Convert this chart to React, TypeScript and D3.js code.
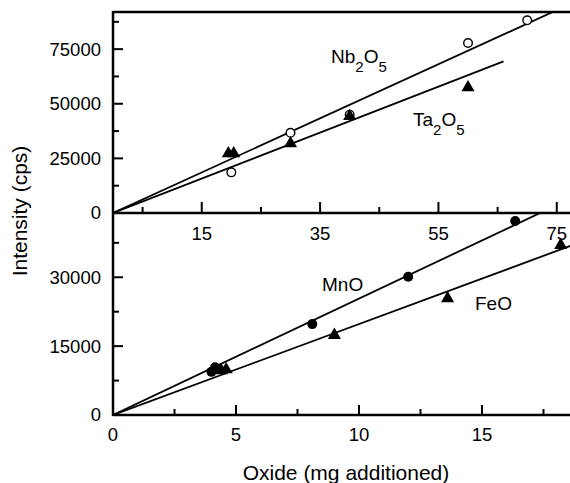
import { useMemo } from 'react';
import * as d3 from 'd3';

// top panel: Nb2O5 (open circles) and Ta2O5 (filled triangles), x = oxide 0..80
const nbX = [20, 30, 40, 60, 70];
const nbY = [18600, 36700, 45000, 77800, 88200];
const taX = [19.5, 20.4, 30, 40, 60];
const taY = [27200, 27200, 31800, 44300, 57400];

// bottom panel: MnO (filled circles) and FeO (filled triangles), x = mg 0..20
const mnX = [4.0, 4.15, 8.1, 12, 16.35];
const mnY = [9400, 10400, 19800, 30100, 42250];
const feX = [4.4, 4.6, 9.0, 13.6, 18.2];
const feY = [9700, 9900, 17400, 25400, 37000];

// how far each fitted line is drawn (in x units)
const fitEnds = { nb: 80, ta: 66, mn: 20, fe: 20 };

const topXMajor = [15, 35, 55, 75];
const topXMinor = [5, 25, 45, 65];
const topYMajor = [0, 25000, 50000, 75000];
const topYMinor = [12500, 37500, 62500, 87500];
const botXMajor = [0, 5, 10, 15];
const botXMinor = [2.5, 7.5, 12.5, 17.5];
const botYMajor = [0, 15000, 30000];
const botYMinor = [7500, 22500, 37500];

const W = 570;
const H = 483;
const left = 113;
const top = 12;
const mid = 213;
const bottom = 415;
const font = '"Liberation Sans", Arial, Helvetica, sans-serif';

// least squares slope through origin
const slope = (xs: number[], ys: number[]) =>
  d3.sum(xs, (x, i) => x * ys[i]) / d3.sum(xs, (x) => x * x);

const App = () => {
  const xTop = d3.scaleLinear().domain([0, 80]).range([left, left + 80 * 5.917]);
  const yTop = d3.scaleLinear().domain([0, 92000]).range([mid, top]);
  const xBot = d3.scaleLinear().domain([0, 20]).range([left, left + 20 * 24.6]);
  const yBot = d3.scaleLinear().domain([0, 44000]).range([bottom, mid]);

  const tri = useMemo(() => d3.symbol().type(d3.symbolTriangle).size(74)(), []);

  const fitLine = (xs: number[], ys: number[], end: number, sx: any, sy: any) => {
    const k = slope(xs, ys);
    return d3.line()([
      [sx(0), sy(0)],
      [sx(end), sy(k * end)],
    ]) as string;
  };

  const tickLen = 10;
  const minorLen = 6;

  return (
    <svg
      width={W}
      height={H}
      style={{ position: 'absolute', left: 0, top: 0, background: '#fff' }}
      fontFamily={font}
    >
      <defs>
        <clipPath id="clipTop">
          <rect x={left} y={top} width={W - left} height={mid - top} />
        </clipPath>
        <clipPath id="clipBot">
          <rect x={left} y={mid} width={W - left} height={bottom - mid} />
        </clipPath>
      </defs>

      {/* fitted lines */}
      <g clipPath="url(#clipTop)" stroke="#000" strokeWidth={1.8} fill="none">
        <path d={fitLine(nbX, nbY, fitEnds.nb, xTop, yTop)} />
        <path d={fitLine(taX, taY, fitEnds.ta, xTop, yTop)} />
      </g>
      <g clipPath="url(#clipBot)" stroke="#000" strokeWidth={1.8} fill="none">
        <path d={fitLine(mnX, mnY, fitEnds.mn, xBot, yBot)} />
        <path d={fitLine(feX, feY, fitEnds.fe, xBot, yBot)} />
      </g>

      {/* markers */}
      {nbX.map((x, i) => (
        <circle key={'nb' + i} cx={xTop(x)} cy={yTop(nbY[i])} r={4.3} fill="#fff" stroke="#000" strokeWidth={1.4} />
      ))}
      {taX.map((x, i) => (
        <path key={'ta' + i} d={tri as string} transform={`translate(${xTop(x)},${yTop(taY[i])})`} fill="#000" />
      ))}
      {mnX.map((x, i) => (
        <circle key={'mn' + i} cx={xBot(x)} cy={yBot(mnY[i])} r={5} fill="#000" />
      ))}
      {feX.map((x, i) => (
        <path key={'fe' + i} d={tri as string} transform={`translate(${xBot(x)},${yBot(feY[i])})`} fill="#000" />
      ))}

      {/* frame and axes */}
      <g stroke="#000" strokeWidth={2.5} fill="none">
        <line x1={left} x2={W} y1={top} y2={top} />
        <line x1={left} x2={W} y1={mid} y2={mid} />
        <line x1={left} x2={W} y1={bottom} y2={bottom} />
        <line x1={left} x2={left} y1={top - 1} y2={bottom + 1} />
      </g>

      {/* ticks */}
      <g stroke="#000" strokeWidth={2}>
        {topYMajor.map((v) => (
          <line key={'tym' + v} x1={left} x2={left + tickLen} y1={yTop(v)} y2={yTop(v)} />
        ))}
        {topYMinor.map((v) => (
          <line key={'tyn' + v} x1={left} x2={left + minorLen} y1={yTop(v)} y2={yTop(v)} />
        ))}
        {botYMajor.map((v) => (
          <line key={'bym' + v} x1={left} x2={left + tickLen} y1={yBot(v)} y2={yBot(v)} />
        ))}
        {botYMinor.map((v) => (
          <line key={'byn' + v} x1={left} x2={left + minorLen} y1={yBot(v)} y2={yBot(v)} />
        ))}
        {topXMajor.map((v) => (
          <line key={'txm' + v} x1={xTop(v)} x2={xTop(v)} y1={mid} y2={mid - tickLen - 1} />
        ))}
        {topXMinor.map((v) => (
          <line key={'txn' + v} x1={xTop(v)} x2={xTop(v)} y1={mid} y2={mid - minorLen} />
        ))}
        {botXMajor.map((v) => (
          <line key={'bxm' + v} x1={xBot(v)} x2={xBot(v)} y1={bottom} y2={bottom - tickLen} />
        ))}
        {botXMinor.map((v) => (
          <line key={'bxn' + v} x1={xBot(v)} x2={xBot(v)} y1={bottom} y2={bottom - minorLen} />
        ))}
      </g>

      {/* tick labels */}
      <g fontSize={18.5} fill="#000">
        {topYMajor.map((v) => (
          <text key={'tyl' + v} x={101} y={yTop(v)} dy="0.35em" textAnchor="end">
            {v}
          </text>
        ))}
        {botYMajor.map((v) => (
          <text key={'byl' + v} x={101} y={yBot(v)} dy="0.35em" textAnchor="end">
            {v}
          </text>
        ))}
        {topXMajor.map((v) => (
          <text key={'txl' + v} x={xTop(v)} y={240} textAnchor="middle">
            {v}
          </text>
        ))}
        {botXMajor.map((v) => (
          <text key={'bxl' + v} x={xBot(v)} y={441} textAnchor="middle">
            {v}
          </text>
        ))}
      </g>

      {/* series labels */}
      <g fontSize={19} fill="#000">
        <text x={331} y={63}>
          Nb<tspan fontSize={15} dy={9}>2</tspan>
          <tspan dy={-9}>O</tspan>
          <tspan fontSize={15} dy={9}>5</tspan>
        </text>
        <text x={413} y={126}>
          Ta<tspan fontSize={15} dy={9}>2</tspan>
          <tspan dy={-9}>O</tspan>
          <tspan fontSize={15} dy={9}>5</tspan>
        </text>
        <text x={322} y={291}>MnO</text>
        <text x={475} y={310}>FeO</text>
      </g>

      {/* axis titles */}
      <text transform="translate(27,211) rotate(-90)" textAnchor="middle" fontSize={21}>
        Intensity (cps)
      </text>
      <text x={346} y={480} textAnchor="middle" fontSize={21}>
        Oxide (mg additioned)
      </text>
    </svg>
  );
};

export default App;
